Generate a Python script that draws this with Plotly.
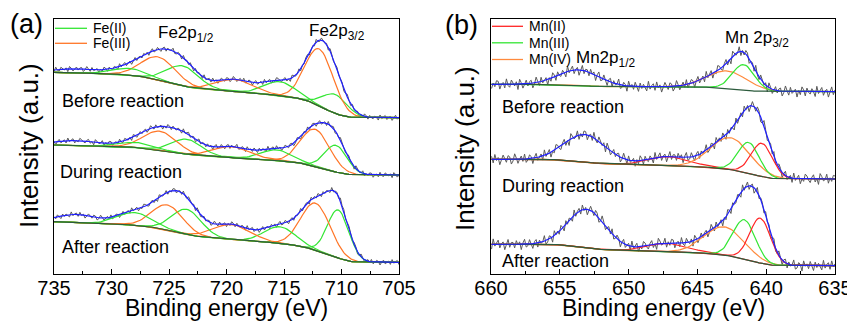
import numpy as np
import plotly.graph_objects as go

# page body has an 8px margin, so the figure is 8px smaller and positions are offset
OFF = 8
W, H = 855 - OFF, 321 - OFF

# ---------------- data (y in arbitrary units) ----------------
FE_RANGE = [735, 705]
MN_RANGE = [660, 635]
SAMPLES = ["Before reaction", "During reaction", "After reaction"]

# Fe 2p : component states (None = fitted but not drawn)
FE_STATE = ["Fe(II)", "Fe(III)", "Fe(II)", "Fe(III)", "Fe(II)", "Fe(III)", "Fe(II)", None]
FE_CENTER_BEFORE = [710.56, 711.93, 715.35, 719.26, 723.8, 725.93, 728.4, 733.0]
FE_HEIGHT_BEFORE = [19.0, 57.0, 14.0, 12.0, 20.0, 23.0, 6.7, 4.0]
FE_FWHM_BEFORE = [2.5, 2.9, 3.2, 3.8, 3.2, 3.5, 3.5, 4.5]
FE_CENTER_DURING = [710.48, 712.3, 715.63, 719.55, 723.46, 725.78, 727.8, 733.0]
FE_HEIGHT_DURING = [26.7, 37.0, 10.7, 11.0, 15.0, 19.0, 5.0, 5.0]
FE_FWHM_DURING = [2.3, 3.0, 3.2, 3.8, 3.0, 3.4, 3.5, 4.5]
FE_CENTER_AFTER = [710.28, 712.26, 715.35, 719.55, 723.46, 725.15, 727.96, 733.0]
FE_HEIGHT_AFTER = [48.0, 47.0, 16.6, 15.0, 25.0, 25.0, 12.7, 8.0]
FE_FWHM_AFTER = [2.2, 3.0, 3.2, 3.8, 3.0, 3.2, 3.5, 4.0]
FE_BG_HIGH = [201.7, 129.0, 52.3]   # background at 735 eV
FE_BG_LOW = [156.3, 99.0, 11.7]     # background at 705 eV

# Mn 2p
MN_STATE_BEFORE = [None, "Mn(IV)", "Mn(III)"]
MN_CENTER_BEFORE = [653.63, 642.85, 641.64]
MN_HEIGHT_BEFORE = [15.7, 17.3, 25.4]
MN_FWHM_BEFORE = [3.5, 3.5, 1.9]
MN_STATE = [None, "Mn(II)", "Mn(IV)", "Mn(III)", "Mn(II)"]
MN_CENTER_DURING = [653.15, 647.09, 642.61, 641.27, 640.31]
MN_HEIGHT_DURING = [27.4, 9.0, 32.0, 31.0, 33.4]
MN_FWHM_DURING = [3.6, 3.5, 3.4, 1.8, 1.8]
MN_CENTER_AFTER = [653.02, 647.21, 643.04, 641.59, 640.43]
MN_HEIGHT_AFTER = [38.3, 8.3, 28.3, 39.3, 45.0]
MN_FWHM_AFTER = [3.3, 3.5, 3.4, 1.9, 1.8]
MN_BG_HIGH = [189.7, 114.7, 29.7]   # at 660 eV
MN_BG_LOW = [182.3, 95.0, 8.3]      # at 635 eV

# measured-minus-fit residuals (hand read, unit amplitude)
RESIDUAL = [0.3, -0.5, 0.8, -0.2, -0.9, 0.4, 0.1, -0.6, 0.7, 0.2,
            -0.3, 0.9, -0.8, 0.0, 0.5, -0.4, -0.1, 0.6, -0.7, 0.3,
            0.8, -0.5, 0.2, -0.9, 0.4, 0.0, -0.3, 0.7, -0.6, 0.1,
            0.9, -0.2, -0.8, 0.5, 0.3, -0.4, 0.6, -0.1, -0.7, 0.2,
            0.8, -0.9, 0.4, -0.3, 0.1, 0.7, -0.5, -0.2, 0.9, -0.6,
            0.3, 0.0, -0.8, 0.5, 0.6, -0.4, 0.2, -0.7, 0.8, -0.1,
            -0.3, 0.4, 0.9, -0.9, 0.1, -0.5, 0.7, 0.3, -0.6, -0.2,
            0.5, 0.8, -0.4, 0.0, -0.8, 0.6, 0.2, -0.3, 0.9, -0.7,
            0.4, -0.1, -0.5, 0.7, 0.1, -0.9, 0.3, 0.6, -0.2, -0.6,
            0.8, -0.4, 0.5, 0.0, -0.7, 0.2, 0.9, -0.3, -0.8, 0.4,
            0.6, -0.5, 0.1, 0.7, -0.1, -0.9, 0.3, -0.2, 0.8, -0.6,
            0.5, 0.2, -0.4, 0.9, -0.7, 0.0, 0.4, -0.3, 0.6, -0.8,
            0.1, 0.7, -0.5, 0.3, -0.1, 0.8, -0.9, 0.2, 0.5, -0.4,
            -0.6, 0.9, 0.0, -0.2, 0.4, -0.7, 0.6, 0.3, -0.8, 0.1,
            0.7, -0.3, -0.5, 0.8, 0.2, -0.9, 0.4, -0.1, 0.6, -0.6, 0.3]

COLORS = {"Fe(II)": "#33e633", "Fe(III)": "#ff7526",
          "Mn(II)": "#ff2424", "Mn(III)": "#33e633", "Mn(IV)": "#ff8a3d"}
ENV_COLOR = "#1f1fff"
RAW_COLOR = "#5a5a5a"
BG_COLOR = "#2c5b3c"
FONT = "Liberation Sans, Arial, sans-serif"


def gauss(e, c, h, w):
    return h * np.exp(-4 * np.log(2) * (e - c) ** 2 / w ** 2)


def spectrum(e, centers, heights, fwhms, bg_low, bg_high):
    comps = [gauss(e, c, h, w) for c, h, w in zip(centers, heights, fwhms)]
    total = np.sum(comps, axis=0)
    cum = np.concatenate([[0], np.cumsum((total[1:] + total[:-1]) / 2 * np.diff(e))])
    bg = bg_low + (bg_high - bg_low) * cum / cum[-1]   # Shirley-type background
    return comps, bg


fig = go.Figure()


def add_panel(xa, ya, e, specs, amp, step_off):
    for k, (states, cen, hei, fw, lo, hi) in enumerate(specs):
        comps, bg = spectrum(e, cen, hei, fw, lo, hi)
        env = bg + np.sum(comps, axis=0)
        n = len(RESIDUAL)
        res = np.array([RESIDUAL[(i + k * step_off) % n] for i in range(len(e))])
        fig.add_trace(go.Scatter(x=e, y=env + amp * res, mode="lines", xaxis=xa, yaxis=ya,
                                 line=dict(color=RAW_COLOR, width=1), showlegend=False,
                                 hoverinfo="skip"))
        for st, comp in zip(states, comps):
            if st is None:
                continue
            fig.add_trace(go.Scatter(x=e, y=bg + comp, mode="lines", xaxis=xa, yaxis=ya,
                                     line=dict(color=COLORS[st], width=1.2), showlegend=False,
                                     hoverinfo="skip"))
        fig.add_trace(go.Scatter(x=e, y=bg, mode="lines", xaxis=xa, yaxis=ya,
                                 line=dict(color=BG_COLOR, width=1.2), showlegend=False,
                                 hoverinfo="skip"))
        fig.add_trace(go.Scatter(x=e, y=env, mode="lines", xaxis=xa, yaxis=ya,
                                 line=dict(color=ENV_COLOR, width=1.2), showlegend=False,
                                 hoverinfo="skip"))


e_fe = np.arange(705.0, 735.0001, 0.15)
e_mn = np.arange(635.0, 660.0001, 0.12)

add_panel("x", "y", e_fe, [
    (FE_STATE, FE_CENTER_BEFORE, FE_HEIGHT_BEFORE, FE_FWHM_BEFORE, FE_BG_LOW[0], FE_BG_HIGH[0]),
    (FE_STATE, FE_CENTER_DURING, FE_HEIGHT_DURING, FE_FWHM_DURING, FE_BG_LOW[1], FE_BG_HIGH[1]),
    (FE_STATE, FE_CENTER_AFTER, FE_HEIGHT_AFTER, FE_FWHM_AFTER, FE_BG_LOW[2], FE_BG_HIGH[2]),
], 3.0, 37)

add_panel("x2", "y2", e_mn, [
    (MN_STATE_BEFORE, MN_CENTER_BEFORE, MN_HEIGHT_BEFORE, MN_FWHM_BEFORE, MN_BG_LOW[0], MN_BG_HIGH[0]),
    (MN_STATE, MN_CENTER_DURING, MN_HEIGHT_DURING, MN_FWHM_DURING, MN_BG_LOW[1], MN_BG_HIGH[1]),
    (MN_STATE, MN_CENTER_AFTER, MN_HEIGHT_AFTER, MN_FWHM_AFTER, MN_BG_LOW[2], MN_BG_HIGH[2]),
], 6.0, 53)


def px(x):
    return (x - OFF) / W


def py(y):
    return 1 - (y - OFF) / H


xaxis_common = dict(showline=True, mirror=True, linecolor="black", linewidth=1.2,
                    ticks="inside", ticklen=5, tickwidth=1, tickcolor="black",
                    tickmode="linear", tick0=0, dtick=5, automargin=False,
                    ticklabelstandoff=-4,
                    minor=dict(ticks="inside", ticklen=3, dtick=2.5, tickcolor="black"),
                    tickfont=dict(family=FONT, size=20, color="black"),
                    showgrid=False, zeroline=False)
yaxis_common = dict(showline=True, mirror=True, linecolor="black", linewidth=1.2,
                    ticks="", showticklabels=False, showgrid=False, zeroline=False,
                    range=[0, 255], automargin=False)

fig.update_layout(
    template="none",
    width=W, height=H, autosize=False, margin=dict(l=0, r=0, t=0, b=0, pad=0),
    paper_bgcolor="white", plot_bgcolor="white",
    xaxis=dict(domain=[px(54), px(399)], range=FE_RANGE, anchor="y", **xaxis_common),
    yaxis=dict(domain=[py(274), py(19)], anchor="x", **yaxis_common),
    xaxis2=dict(domain=[px(491), px(835)], range=MN_RANGE, anchor="y2", **xaxis_common),
    yaxis2=dict(domain=[py(274), py(19)], anchor="x2", **yaxis_common),
    showlegend=False,
)

annotations = []
shapes = []


def ann(x, y, text, size, xanchor="left", yanchor="middle", angle=0):
    annotations.append(dict(x=px(x), y=py(y), xref="paper", yref="paper", text=text,
                            showarrow=False, xanchor=xanchor, yanchor=yanchor,
                            textangle=angle, font=dict(family=FONT, size=size, color="black")))


# panel labels and axis titles
ann(26, 24, "(a)", 27, "center")
ann(461, 25, "(b)", 27, "center")
ann(29, 146, "Intensity (a.u.)", 26, "center", "middle", -90)
ann(465, 148, "Intensity (a.u.)", 26, "center", "middle", -90)
ann(226, 308, "Binding energy (eV)", 23, "center")
ann(663, 308, "Binding energy (eV)", 23, "center")

# sample labels
for (x, y), t in zip([(60, 101), (58, 172), (60, 247)], SAMPLES):
    ann(x, y, t, 18)
for (x, y), t in zip([(500, 107), (500, 186), (500, 261)], SAMPLES):
    ann(x, y, t, 18)

# peak labels
ann(156, 34, "Fe2p<sub>1/2</sub>", 17)
ann(307, 32, "Fe2p<sub>3/2</sub>", 17)
ann(574, 59, "Mn2p<sub>1/2</sub>", 17)
ann(723, 39, "Mn 2p<sub>3/2</sub>", 17)

# legends
for (y, st) in [(28.3, "Fe(II)"), (43.3, "Fe(III)")]:
    shapes.append(dict(type="line", xref="paper", yref="paper", x0=px(55), x1=px(87),
                       y0=py(y), y1=py(y), line=dict(color=COLORS[st], width=1.3)))
    ann(91, y, st, 14)
for (y, st) in [(26.3, "Mn(II)"), (42.8, "Mn(III)"), (59.5, "Mn(IV)")]:
    shapes.append(dict(type="line", xref="paper", yref="paper", x0=px(492), x1=px(523),
                       y0=py(y), y1=py(y), line=dict(color=COLORS[st], width=1.3)))
    ann(527, y, st, 14)

fig.update_layout(annotations=annotations, shapes=shapes)
fig.write_html("out.html")
